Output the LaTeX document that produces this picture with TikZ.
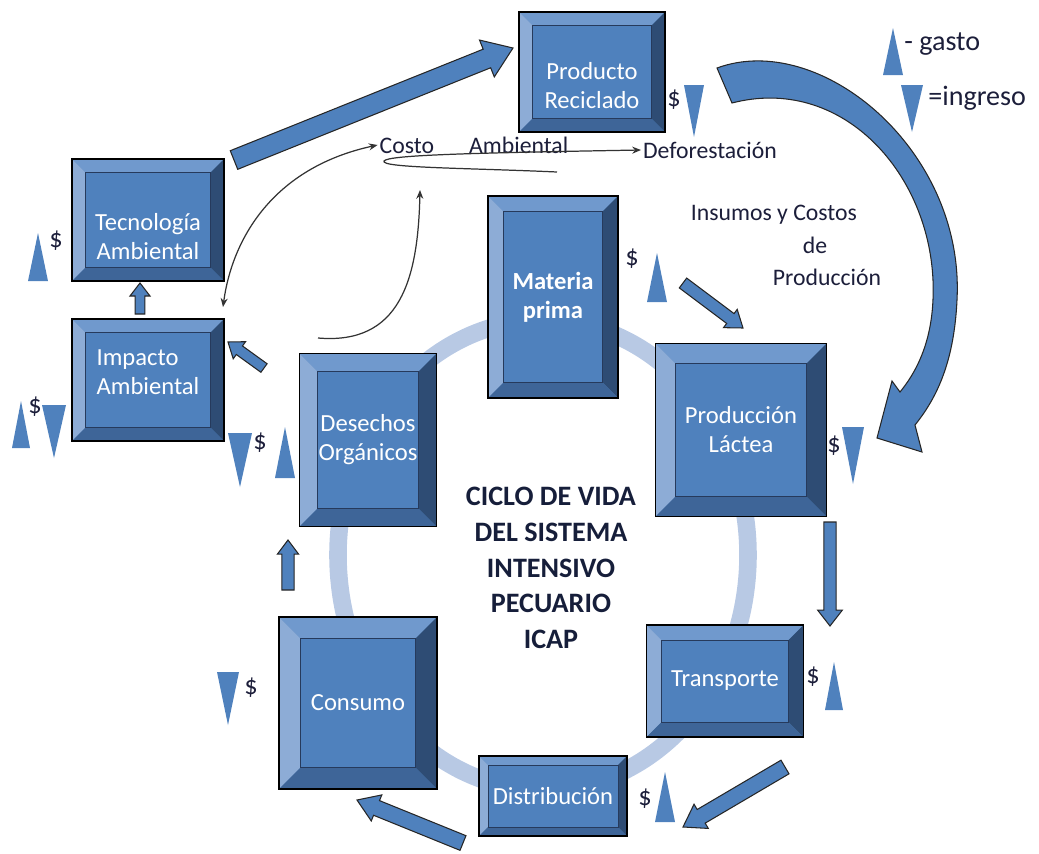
\documentclass[tikz,border=0pt]{standalone}
\usepackage{fontspec}
\setmainfont{Carlito}
\usetikzlibrary{positioning, calc, arrows.meta}
\definecolor{boxface}{RGB}{79,129,189}
\definecolor{bevtop}{RGB}{112,153,205}
\definecolor{bevleft}{RGB}{141,172,214}
\definecolor{bevright}{RGB}{46,76,116}
\definecolor{bevbot}{RGB}{62,101,152}
\definecolor{bevedge}{RGB}{38,58,92}
\definecolor{ringblue}{RGB}{184,201,228}
\definecolor{inkblue}{RGB}{28,30,58}
\definecolor{titleblue}{RGB}{22,30,58}

\newcommand{\bevd}{8pt}
% triangle marks: x, apex/top y, bottom y, half width
\newcommand{\gastotri}[4]{\fill[trifill] (#1-#4,#3) -- (#1,#2) -- (#1+#4,#3) -- cycle;}
\newcommand{\ingresotri}[4]{\fill[trifill] (#1-#4,#2) -- (#1+#4,#2) -- (#1,#3) -- cycle;}
% block arrow: from, to, half shaft, half head, head length
\newcommand{\blockarrow}[5]{%
  \coordinate (ba-h) at ($(#2)!#5!(#1)$);
  \draw[blockarr] ($(#1)!#3!90:(#2)$) -- ($(ba-h)!#3!90:(#2)$) -- ($(ba-h)!#4!90:(#2)$)
    -- (#2) -- ($(ba-h)!#4!-90:(#2)$) -- ($(ba-h)!#3!-90:(#2)$) -- ($(#1)!#3!-90:(#2)$) -- cycle;}

\begin{document}
\begin{tikzpicture}[x=0.02cm, y=-0.02cm,
            bev/.code={\renewcommand{\bevd}{#1}},
            bevelbox/.style={draw=black, line width=0.7pt, fill=boxface, text=white, align=center, inner sep=0pt,
              font=\fontsize{14}{16.5}\selectfont,
              path picture={
                \fill[bevtop] (path picture bounding box.north west) -- (path picture bounding box.north east)
                  -- ([xshift=-\bevd,yshift=-\bevd]path picture bounding box.north east)
                  -- ([xshift=\bevd,yshift=-\bevd]path picture bounding box.north west) -- cycle;
                \fill[bevleft] (path picture bounding box.north west) -- (path picture bounding box.south west)
                  -- ([xshift=\bevd,yshift=\bevd]path picture bounding box.south west)
                  -- ([xshift=\bevd,yshift=-\bevd]path picture bounding box.north west) -- cycle;
                \fill[bevright] (path picture bounding box.north east) -- (path picture bounding box.south east)
                  -- ([xshift=-\bevd,yshift=\bevd]path picture bounding box.south east)
                  -- ([xshift=-\bevd,yshift=-\bevd]path picture bounding box.north east) -- cycle;
                \fill[bevbot] (path picture bounding box.south west) -- (path picture bounding box.south east)
                  -- ([xshift=-\bevd,yshift=\bevd]path picture bounding box.south east)
                  -- ([xshift=\bevd,yshift=\bevd]path picture bounding box.south west) -- cycle;
                \draw[bevedge, line width=0.5pt] ([xshift=\bevd,yshift=\bevd]path picture bounding box.south west)
                  rectangle ([xshift=-\bevd,yshift=-\bevd]path picture bounding box.north east);
              }},
            lbl/.style={text=inkblue, font=\fontsize{13.5}{16}\selectfont, inner sep=1pt},
            dollar/.style={text=inkblue, font=\fontsize{15}{16}\selectfont, inner sep=0pt},
            legendtxt/.style={text=inkblue, font=\fontsize{16}{18}\selectfont, inner sep=0pt, anchor=west},
            title/.style={text=titleblue, align=center, font=\fontsize{16}{20.4}\selectfont\bfseries},
            trifill/.style={fill=boxface},
            ring/.style={draw=ringblue, line width=10pt},
            blockarr/.style={fill=boxface, draw=black!85, line width=0.6pt, line join=miter},
            bigarr/.style={fill=boxface, draw=black!85, line width=0.6pt},
            thinarr/.style={-{Stealth[length=5pt,width=4pt]}, draw=black!80, line width=0.7pt}
        ]
            \useasboundingbox (0,0) rectangle (1039,853);

            % cycle ring
            \draw[ring] (543,555) ellipse [x radius=205, y radius=235];

            % boxes
            \node[bevelbox, bev=7.9pt, minimum width=2.92cm, minimum height=2.40cm] (prod) at (592,72) {\rule{0pt}{25pt}Producto\\Reciclado};
            \node[bevelbox, bev=7.9pt, minimum width=3.04cm, minimum height=2.44cm] (tec) at (148,220) {\rule{0pt}{29pt}Tecnología\\Ambiental};
            \node[bevelbox, bev=7.9pt, minimum width=3.04cm, minimum height=2.44cm, align=left] (imp) at (148,380) {Impacto\\Ambiental\rule[-9pt]{0pt}{1pt}};
            \node[bevelbox, bev=9pt, minimum width=2.60cm, minimum height=4.04cm, font=\fontsize{14}{16.5}\selectfont\bfseries] (mat) at (553,297) {Materia\\prima};
            \node[bevelbox, bev=11.3pt, minimum width=3.42cm, minimum height=3.46cm] (lac) at (741,430) {Producción\\Láctea};
            \node[bevelbox, bev=10.2pt, minimum width=2.74cm, minimum height=3.46cm] (des) at (368,440) {Desechos\\Orgánicos};
            \node[bevelbox, bev=8.5pt, minimum width=3.14cm, minimum height=2.24cm] (tra) at (725,681) {Transporte};
            \node[bevelbox, bev=5.1pt, minimum width=2.96cm, minimum height=1.60cm] (dis) at (553,796) {Distribución};
            \node[bevelbox, bev=12.2pt, minimum width=3.16cm, minimum height=3.44cm] (con) at (358,703) {Consumo};

            % centre title
            \node[title] (ciclo) at (551,568) {CICLO DE VIDA\\DEL SISTEMA\\INTENSIVO\\PECUARIO\\ICAP};

            % text labels
            \node[lbl] (costo) at (474,145) {Costo\hspace{20pt}Ambiental};
            \node[lbl, anchor=west] (deforest) at (641,150) {Deforestación};
            \node[lbl] (ins1) at (774,215) {Insumos y Costos};
            \node[lbl] (ins2) at (815,245) {de};
            \node[lbl] (ins3) at (827,277) {Producción};

            % legend
            \gastotri{893}{28}{75}{10}
            \ingresotri{912}{85}{132}{11}
            \node[legendtxt] (gasto) at (904,44) {- gasto};
            \node[legendtxt] (ingreso) at (928,98) {=ingreso};

            % money marks
            \node[dollar] (d-prod) at (674,100) {\$};
            \ingresotri{694}{85}{137}{10}
            \node[dollar] (d-tec) at (56,241) {\$};
            \gastotri{38}{233}{281}{10}
            \node[dollar] (d-imp) at (35,407) {\$};
            \gastotri{21}{401}{448}{9}
            \ingresotri{54}{405}{458}{12}
            \node[dollar] (d-des) at (260,443) {\$};
            \ingresotri{240}{433}{487}{12}
            \gastotri{285}{427}{478}{10}
            \node[dollar] (d-mat) at (632,259) {\$};
            \gastotri{657}{253}{302}{10}
            \node[dollar] (d-lac) at (834,446) {\$};
            \ingresotri{853}{427}{484}{11}
            \node[dollar] (d-tra) at (813,677) {\$};
            \gastotri{834}{662}{710}{9}
            \node[dollar] (d-dis) at (645,799) {\$};
            \gastotri{665}{772}{822}{10}
            \node[dollar] (d-con) at (251,688) {\$};
            \ingresotri{228}{672}{725}{11}

            % block arrow ends
            \coordinate (tec-out) at (234,160);
            \coordinate (prod-in) at (513,48);
            \coordinate (imp-out) at (140,314);
            \coordinate (tec-in) at (140,283);
            \coordinate (des-out) at (264,368);
            \coordinate (imp-in) at (228,342);
            \coordinate (con-out) at (288,590);
            \coordinate (des-in) at (288,540);
            \coordinate (dis-out) at (463,843);
            \coordinate (con-in) at (357,800);
            \coordinate (tra-out) at (785,767);
            \coordinate (dis-in) at (683,827);
            \coordinate (lac-out) at (830,522);
            \coordinate (tra-in) at (830,626);
            \coordinate (mat-out) at (683,283);
            \coordinate (lac-in) at (743,328);

            \blockarrow{tec-out}{prod-in}{5.7pt}{11.3pt}{16pt}
            \blockarrow{imp-out}{tec-in}{2.8pt}{5.7pt}{7.4pt}
            \blockarrow{des-out}{imp-in}{3pt}{6pt}{8pt}
            \blockarrow{con-out}{des-in}{3.5pt}{6pt}{8pt}
            \blockarrow{dis-out}{con-in}{4.5pt}{8pt}{12pt}
            \blockarrow{tra-out}{dis-in}{4.5pt}{8pt}{12pt}
            \blockarrow{lac-out}{tra-in}{3.5pt}{7pt}{9pt}
            \blockarrow{mat-out}{lac-in}{3.5pt}{6.5pt}{9pt}

            % recycled product back to production
            \draw[bigarr] (717,68) .. controls (820,30) and (965,150) .. (957,300)
              .. controls (954,365) and (935,400) .. (915,425) -- (922,452) -- (877,438) -- (892,381) -- (900,392)
              .. controls (922,365) and (935,330) .. (933,280) .. controls (928,170) and (840,75) .. (732,103) -- cycle;

            % thin connectors
            \coordinate (imp-cost) at (223,307);
            \coordinate (des-cost) at (318,338);
            \coordinate (cost-in) at (420,190);
            \coordinate (hp-start) at (557,172);
            \draw[thinarr, {Stealth[length=5pt,width=4pt]}-{Stealth[length=5pt,width=4pt]}] (imp-cost) .. controls (232,240) and (272,168) .. (costo.west);
            \draw[thinarr] (des-cost) .. controls (400,345) and (418,280) .. (cost-in);
            \draw[thinarr] (hp-start) .. controls (470,168) and (380,168) .. (384,161) .. controls (388,155) and (470,153) .. (deforest.west);
        \end{tikzpicture}
\end{document}
